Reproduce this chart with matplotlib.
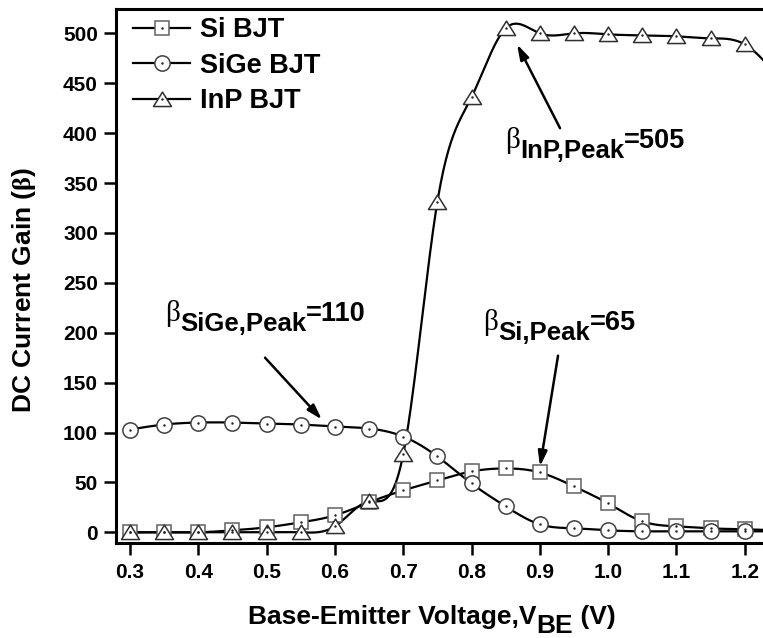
import numpy as np
import matplotlib
matplotlib.use('Agg')
import matplotlib.pyplot as plt
import matplotlib.transforms as mtransforms
from matplotlib.path import Path
from matplotlib.lines import Line2D

plt.rcParams['font.family'] = ['Liberation Sans', 'DejaVu Sans']
plt.rcParams['font.weight'] = 'bold'
plt.rcParams['mathtext.fontset'] = 'custom'
plt.rcParams['mathtext.rm'] = 'Liberation Serif'
plt.rcParams['mathtext.bf'] = 'Liberation Sans:bold'

# base-emitter voltage sweep (V); last point sits just past the visible range
vbe = [0.30, 0.35, 0.40, 0.45, 0.50, 0.55, 0.60, 0.65, 0.70, 0.75,
       0.80, 0.85, 0.90, 0.95, 1.00, 1.05, 1.10, 1.15, 1.20, 1.25]

beta_si = [0, 0, 0, 2, 5, 10, 17, 30, 42, 52,
           61, 64, 60, 46, 29, 11, 6, 4, 3, 2]
beta_sige = [103, 108, 110, 110, 109, 108, 106, 104, 96, 76,
             49, 26, 8, 4, 2, 1, 1, 1, 1, 1]
beta_inp = [0, 0, 0, 0, 0, 0, 6, 31, 78, 331,
            436, 505, 500, 500, 499, 498, 497, 495, 489, 455]

labels = ['Si BJT', 'SiGe BJT', 'InP BJT']
x_ticks = [0.3, 0.4, 0.5, 0.6, 0.7, 0.8, 0.9, 1.0, 1.1, 1.2]
y_ticks = [0, 50, 100, 150, 200, 250, 300, 350, 400, 450, 500]


def natural_spline(x, y, num=40):
    x = np.asarray(x, float)
    y = np.asarray(y, float)
    n = len(x)
    h = np.diff(x)
    A = np.zeros((n, n))
    b = np.zeros(n)
    A[0, 0] = A[-1, -1] = 1
    for i in range(1, n - 1):
        A[i, i - 1] = h[i - 1]
        A[i, i] = 2 * (h[i - 1] + h[i])
        A[i, i + 1] = h[i]
        b[i] = 6 * ((y[i + 1] - y[i]) / h[i] - (y[i] - y[i - 1]) / h[i - 1])
    M = np.linalg.solve(A, b)
    xs, ys = [], []
    for i in range(n - 1):
        t = np.linspace(x[i], x[i + 1], num, endpoint=(i == n - 2))
        a = x[i + 1] - t
        c = t - x[i]
        s = (M[i] * a ** 3 + M[i + 1] * c ** 3) / (6 * h[i]) \
            + (y[i] / h[i] - M[i] * h[i] / 6) * a \
            + (y[i + 1] / h[i] - M[i + 1] * h[i] / 6) * c
        xs.append(t)
        ys.append(s)
    return np.concatenate(xs), np.concatenate(ys)


# wide, flat triangle
tri = Path([(-1.0, -0.78), (1.0, -0.78), (0.0, 0.82), (-1.0, -0.78)],
           [Path.MOVETO, Path.LINETO, Path.LINETO, Path.CLOSEPOLY])

styles = [
    dict(marker='s', ms=10.5, mec='#606060'),
    dict(marker='o', ms=11, mec='#404040'),
    dict(marker=tri, ms=13, mec='#303030'),
]

fig = plt.figure(figsize=(7.63, 6.38), dpi=100)
W, H = 763, 638
x0, x1 = 0.2795, 1.25
y0, y1 = -10.7, 524.4
ax = fig.add_axes([116 / W, 95 / H, (x1 - x0) * 683 / W, 534 / H])

handles = []
for ys, st in zip([beta_si, beta_sige, beta_inp], styles):
    sx, sy = natural_spline(vbe, ys)
    ax.plot(sx, sy, '-', color='k', lw=1.6, zorder=2)
for ys, st in zip([beta_si, beta_sige, beta_inp], styles):
    ax.plot(vbe, ys, ls='none', mfc='white', mew=1.1, zorder=3, **st)
    ax.plot(vbe, ys, ls='none', marker='.', ms=1.5, color='#222222', zorder=4)
    h1 = Line2D([], [], color='k', lw=1.6, mfc='white', mew=1.1, **st)
    h2 = Line2D([], [], ls='none', marker='.', ms=1.5, color='#222222')
    handles.append((h1, h2))

ax.set_xlim(x0, x1)
ax.set_ylim(y0, y1)
ax.set_xticks(x_ticks)
ax.set_xticklabels(['%.1f' % v for v in x_ticks])
ax.set_yticks(y_ticks)
ax.tick_params(direction='out', length=8.5, width=1.8, labelsize=15, color='k')
ax.tick_params(axis='x', pad=6)
ax.tick_params(axis='y', pad=4.5)
for lab in ax.get_xticklabels() + ax.get_yticklabels():
    lab.set_fontweight('bold')
for side in ['left', 'bottom', 'top']:
    ax.spines[side].set_linewidth(2.2)
ax.spines['right'].set_visible(False)

ax.set_ylabel(r'DC Current Gain ($\mathrm{\beta}$)', fontsize=19, fontweight='bold')
ax.yaxis.set_label_coords(-0.118, 0.474)

leg = ax.legend(handles, labels, loc='upper left', bbox_to_anchor=(0.01, 1.005),
                frameon=False, fontsize=19.5, handlelength=2.1, handletextpad=0.35,
                labelspacing=0.35, borderaxespad=0.2, borderpad=0.2)
for t in leg.get_texts():
    t.set_fontweight('bold')

renderer = fig.canvas.get_renderer()


def rich(x, y, parts, base):
    # lay text pieces side by side, each with its own vertical offset (px)
    dx = 0
    for s, dy, kw in parts:
        tr = mtransforms.offset_copy(base, fig=fig, x=dx, y=dy, units='dots')
        t = fig.text(x, y, s, transform=tr, ha='left', va='baseline', **kw)
        dx += t.get_window_extent(renderer).width


beta_kw = dict(fontsize=21, fontweight='normal', family='Liberation Serif')
sub_kw = dict(fontsize=18.5, fontweight='bold')
main_kw = dict(fontsize=19.5, fontweight='bold')

notes = [
    (0.849, 385, 'InP,Peak', '=505', (0.8667, 489), (0.9296, 405)),
    (0.3512, 212, 'SiGe,Peak', '=110', (0.581, 113), (0.4977, 175)),
    (0.8168, 203, 'Si,Peak', '=65', (0.9003, 66), (0.9267, 177)),
]
for tx, ty, sub, val, head, tail in notes:
    rich(tx, ty, [('\u03b2', 0, beta_kw), (sub, -10, sub_kw), (val, 0, main_kw)],
         ax.transData)
    ax.annotate('', xy=head, xytext=tail,
                arrowprops=dict(arrowstyle='-|>,head_length=0.6,head_width=0.18',
                                color='k', lw=1.8, mutation_scale=15,
                                shrinkA=0, shrinkB=0))

xl_kw = dict(fontsize=19, fontweight='bold')
rich(248 / W, 14 / H, [('Base-Emitter Voltage,V', 0, xl_kw), ('BE', -9, xl_kw),
                       (' (V)', 0, xl_kw)], fig.transFigure)

fig.savefig('out.png', dpi=100)
